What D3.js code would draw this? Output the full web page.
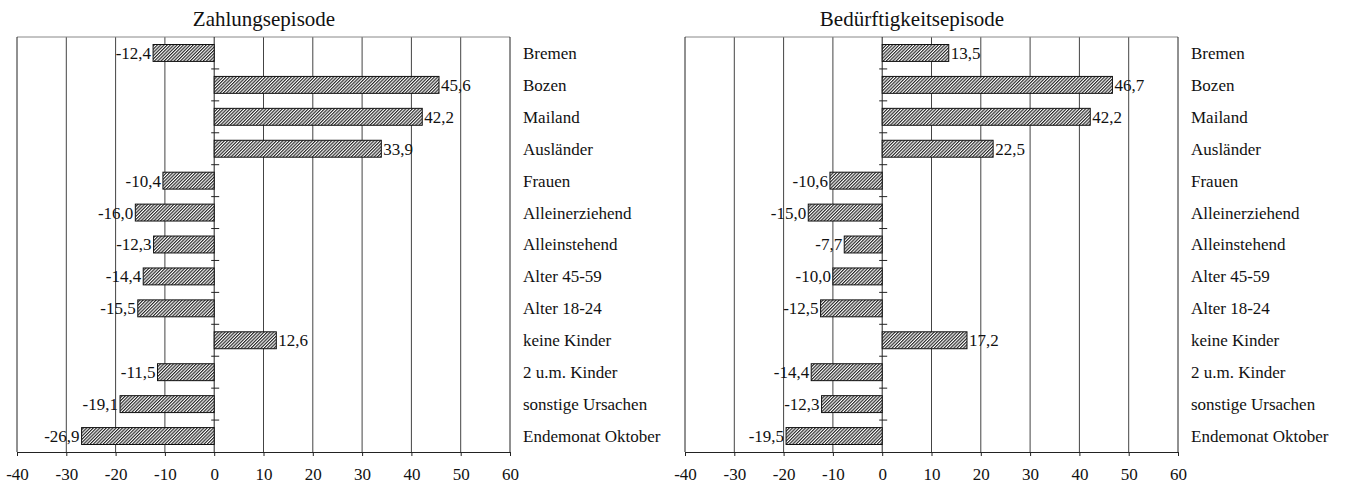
<!DOCTYPE html>
<html>
<head>
<meta charset="utf-8">
<script src="https://cdn.jsdelivr.net/npm/d3@7"></script>
<style>
  body { margin: 0; background: #fff; }
  svg { display: block; }
  svg text { font-family: "Liberation Serif", "DejaVu Serif", serif; }
</style>
</head>
<body>
<svg id="chart" width="1345" height="486"></svg>
<script>
// categories, top to bottom
const categories = [
  "Bremen", "Bozen", "Mailand", "Ausländer", "Frauen", "Alleinerziehend",
  "Alleinstehend", "Alter 45-59", "Alter 18-24", "keine Kinder",
  "2 u.m. Kinder", "sonstige Ursachen", "Endemonat Oktober"
];
const zahlungValues = [-12.4, 45.6, 42.2, 33.9, -10.4, -16.0, -12.3, -14.4, -15.5, 12.6, -11.5, -19.1, -26.9];
const bedarfValues = [13.5, 46.7, 42.2, 22.5, -10.6, -15.0, -7.7, -10.0, -12.5, 17.2, -14.4, -12.3, -19.5];
const xTicks = [-40, -30, -20, -10, 0, 10, 20, 30, 40, 50, 60];
const panelTitles = ["Zahlungsepisode", "Bedürftigkeitsepisode"];

const TOP = 37, BOTTOM = 452;

// german number format: comma decimal, plain hyphen minus
const de = d3.formatLocale({ decimal: ",", thousands: ".", grouping: [3], currency: ["", " €"], minus: "-" });
const fmtValue = de.format(".1f");
const fmtTick = de.format("d");

const svg = d3.select("#chart");

// diagonal hatch used by all bars
const H = 2.3;
svg.append("defs")
  .append("pattern")
  .attr("id", "hatch")
  .attr("patternUnits", "userSpaceOnUse")
  .attr("width", H)
  .attr("height", H)
  .attr("patternTransform", "rotate(45)")
  .call((p) => {
    p.append("rect").attr("width", H).attr("height", H).attr("fill", "#fff");
    p.append("line")
      .attr("x1", 0.6).attr("y1", 0)
      .attr("x2", 0.6).attr("y2", H)
      .attr("stroke", "#1a1a1a")
      .attr("stroke-width", 1.1);
  });

function drawPanel({ values, title, x0, x1, titleX }) {
  const x = d3.scaleLinear().domain([xTicks[0], xTicks[xTicks.length - 1]]).range([x0, x1]);
  const y = d3.scaleBand()
    .domain(categories)
    .range([TOP, BOTTOM])
    .paddingInner(0.47)
    .paddingOuter(0.235);

  const g = svg.append("g");
  const rows = categories.map((c, i) => ({ cat: c, v: values[i] }));

  // title
  g.append("text")
    .attr("x", titleX)
    .attr("y", 26)
    .attr("text-anchor", "middle")
    .attr("font-size", 21)
    .attr("fill", "#111")
    .text(title);

  // vertical grid lines
  g.selectAll("line.grid")
    .data(xTicks.slice(1, -1).filter((t) => t !== 0))
    .join("line")
    .attr("class", "grid")
    .attr("x1", (d) => x(d)).attr("x2", (d) => x(d))
    .attr("y1", TOP).attr("y2", BOTTOM)
    .attr("stroke", "#444")
    .attr("stroke-width", 1);

  // frame
  g.append("line")
    .attr("x1", x0).attr("x2", x1).attr("y1", TOP).attr("y2", TOP)
    .attr("stroke", "#888");
  g.selectAll("line.side")
    .data([x0, x1])
    .join("line")
    .attr("class", "side")
    .attr("x1", (d) => d).attr("x2", (d) => d)
    .attr("y1", TOP).attr("y2", BOTTOM)
    .attr("stroke", "#222");

  // zero line with small ticks between the rows
  g.append("line")
    .attr("x1", x(0)).attr("x2", x(0))
    .attr("y1", TOP).attr("y2", BOTTOM)
    .attr("stroke", "#222");
  g.selectAll("line.ztick")
    .data(categories.slice(1))
    .join("line")
    .attr("class", "ztick")
    .attr("x1", x(0) - 3).attr("x2", x(0) + 5)
    .attr("y1", (d) => y(d) - y.step() * y.paddingInner() / 2)
    .attr("y2", (d) => y(d) - y.step() * y.paddingInner() / 2)
    .attr("stroke", "#222");

  // bars
  g.selectAll("rect.bar")
    .data(rows)
    .join("rect")
    .attr("class", "bar")
    .attr("x", (d) => x(Math.min(0, d.v)))
    .attr("y", (d) => y(d.cat))
    .attr("width", (d) => Math.abs(x(d.v) - x(0)))
    .attr("height", y.bandwidth())
    .attr("fill", "url(#hatch)")
    .attr("stroke", "#111")
    .attr("stroke-width", 1);

  // value labels
  g.selectAll("text.val")
    .data(rows)
    .join("text")
    .attr("class", "val")
    .attr("x", (d) => x(d.v) + (d.v < 0 ? -2 : 2))
    .attr("y", (d) => y(d.cat) + y.bandwidth() / 2)
    .attr("dy", "0.35em")
    .attr("text-anchor", (d) => (d.v < 0 ? "end" : "start"))
    .attr("font-size", 17)
    .attr("fill", "#111")
    .text((d) => fmtValue(d.v));

  // category labels on the right
  g.selectAll("text.cat")
    .data(categories)
    .join("text")
    .attr("class", "cat")
    .attr("x", x1 + 13)
    .attr("y", (d) => y(d) + y.bandwidth() / 2)
    .attr("dy", "0.35em")
    .attr("font-size", 17)
    .attr("fill", "#111")
    .text((d) => d);

  // x axis
  const axis = g.append("g")
    .attr("transform", `translate(0,${BOTTOM})`)
    .call(d3.axisBottom(x).tickValues(xTicks).tickSize(4).tickSizeOuter(0).tickPadding(12).tickFormat(fmtTick));
  axis.attr("font-family", null).attr("font-size", 17);
  axis.select(".domain").attr("stroke", "#222");
  axis.selectAll(".tick line").attr("stroke", "#222");
  axis.selectAll(".tick text").attr("fill", "#111");
}

drawPanel({ values: zahlungValues, title: panelTitles[0], x0: 17, x1: 510, titleX: 264 });
drawPanel({ values: bedarfValues, title: panelTitles[1], x0: 685, x1: 1178, titleX: 912 });
</script>
</body>
</html>
